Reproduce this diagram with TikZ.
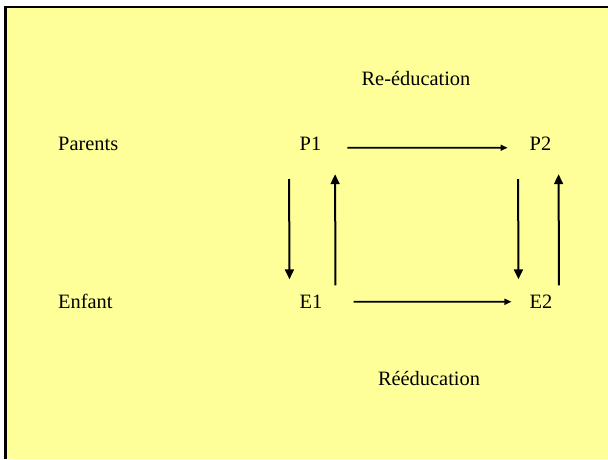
\documentclass[tikz,border=0pt]{standalone}
\usepackage{fontspec}
\setmainfont{Liberation Serif}
\usepackage{tikz}
\usetikzlibrary{arrows.meta}

\definecolor{slide}{HTML}{FFFF99}

\begin{document}
\begin{tikzpicture}[x=1pt, y=-1pt,
    txt/.style = {inner sep = 2, font = \fontsize{20.4}{24}\selectfont},
    vert/.style = {-{Triangle[length=10pt, width=9pt]}, line width = 2pt},
    horiz/.style = {-{Triangle[length=7pt, width=6pt]}, line width = 1.6pt}]

\useasboundingbox (0,0) rectangle (608,459);
\fill[white] (0,0) rectangle (608,459);
\fill[slide] (5,6) rectangle (608,459);
\draw[line width = 2.5pt] (5.5,459) -- (5.5,7) -- (608,7);

\node[txt, anchor = base] at (416,85) (re){Re-éducation};
\node[txt, anchor = base west] at (56,150) (parents){Parents};
\node[txt, anchor = base] at (310.5,150) (p1){P1};
\node[txt, anchor = base] at (540.5,150) (p2){P2};
\node[txt, anchor = base west] at (56,308) (enfant){Enfant};
\node[txt, anchor = base] at (311,308) (e1){E1};
\node[txt, anchor = base] at (541,308) (e2){E2};
\node[txt, anchor = base] at (429,385) (ree){Rééducation};

% re-education of the parents, reeducation of the child
\draw[horiz, shorten <= 24pt, shorten >= 20pt] ([yshift=-4.5pt]p1.east) -- ([yshift=-4.5pt]p2.west);
\draw[horiz, shorten <= 29pt, shorten >= 16pt] ([yshift=-0.5pt]e1.east) -- ([yshift=-0.5pt]e2.west);
% between parents and child
\draw[vert, shorten <= 27pt, shorten >= 13pt] ([xshift=-21.5pt]p1.south) -- ([xshift=-21.5pt]e1.north);
\draw[vert, shorten <= 7pt, shorten >= 22pt] ([xshift=24.5pt]e1.north) -- ([xshift=24.5pt]p1.south);
\draw[vert, shorten <= 27pt, shorten >= 13pt] ([xshift=-22.5pt]p2.south) -- ([xshift=-22.5pt]e2.north);
\draw[vert, shorten <= 7pt, shorten >= 22pt] ([xshift=18pt]e2.north) -- ([xshift=18pt]p2.south);

\end{tikzpicture}
\end{document}
